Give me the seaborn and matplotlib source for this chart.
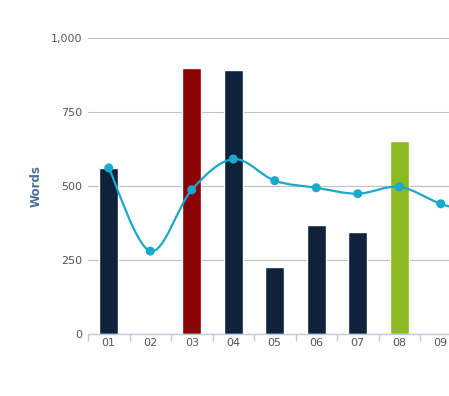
import numpy as np
import pandas as pd
import matplotlib
matplotlib.use("Agg")
import matplotlib.pyplot as plt
from matplotlib.path import Path
from matplotlib.patches import PathPatch
import seaborn as sns

categories = ["01", "02", "03", "04", "05", "06", "07", "08", "09", "10"]
words_bar = [560, 0, 900, 893, 227, 368, 345, 652, 0, 0]
words_line = [561, 280, 487, 591, 518, 494, 474, 497, 440, 400]
bar_colors = {c: "#0e233b" for c in categories}
bar_colors["03"] = "#8b0000"
bar_colors["08"] = "#8bbb22"
y_ticks = [0, 250, 500, 750, 1000]
y_ticklabels = ["0", "250", "500", "750", "1,000"]

sns.set_style("white")
plt.rcParams["font.family"] = ["DejaVu Sans"]

fig = plt.figure(figsize=(4.49, 3.96), dpi=100)
ax = fig.add_axes([88 / 449, 62 / 396, 415 / 449, 296 / 396])

df = pd.DataFrame({"cat": categories, "words": words_bar})
sns.barplot(data=df, x="cat", y="words", hue="cat", palette=bar_colors,
            width=0.46, saturation=1, legend=False, ax=ax, zorder=2)

# smooth line through the points (Catmull-Rom style bezier)
xs = np.arange(len(categories), dtype=float)
ys = np.array(words_line, dtype=float)
verts = [(xs[0], ys[0])]
codes = [Path.MOVETO]
n = len(xs)
for i in range(n - 1):
    p0 = np.array([xs[max(i - 1, 0)], ys[max(i - 1, 0)]])
    p1 = np.array([xs[i], ys[i]])
    p2 = np.array([xs[i + 1], ys[i + 1]])
    p3 = np.array([xs[min(i + 2, n - 1)], ys[min(i + 2, n - 1)]])
    c1 = p1 + (p2 - p0) / 6
    c2 = p2 - (p3 - p1) / 6
    verts += [tuple(c1), tuple(c2), tuple(p2)]
    codes += [Path.CURVE4] * 3
ax.add_patch(PathPatch(Path(verts, codes), facecolor="none", edgecolor="#1aa8cc",
                       linewidth=1.6, zorder=3))
sns.scatterplot(x=xs, y=ys, color="#1aa8cc", s=42, edgecolor="none", zorder=4, ax=ax)

ax.set_xlim(-0.5, len(categories) - 0.5)
ax.set_ylim(0, 1000)
ax.set_yticks(y_ticks)
ax.set_yticklabels(y_ticklabels)
ax.yaxis.grid(True, color="#c0c0c0", linewidth=0.8, zorder=0)
ax.set_axisbelow(True)
for s in ["top", "right", "left"]:
    ax.spines[s].set_visible(False)
ax.spines["bottom"].set_color("#b8cce0")
ax.spines["bottom"].set_linewidth(1)

ax.set_xticks(np.arange(len(categories)))
ax.set_xticklabels(categories)
ax.set_xticks(np.arange(len(categories)) - 0.5, minor=True)
ax.tick_params(axis="x", which="major", length=0, pad=3, labelsize=8, labelcolor="#555555")
ax.tick_params(axis="x", which="minor", bottom=True, length=5, width=1, color="#b8cce0", direction="out")
ax.tick_params(axis="y", length=0, pad=4, labelsize=8, labelcolor="#555555")

ax.set_xlabel("")
ax.set_ylabel("Words", fontsize=8.5, fontweight="bold", color="#4d6d9a", labelpad=6)

fig.savefig("out.png", dpi=100)
